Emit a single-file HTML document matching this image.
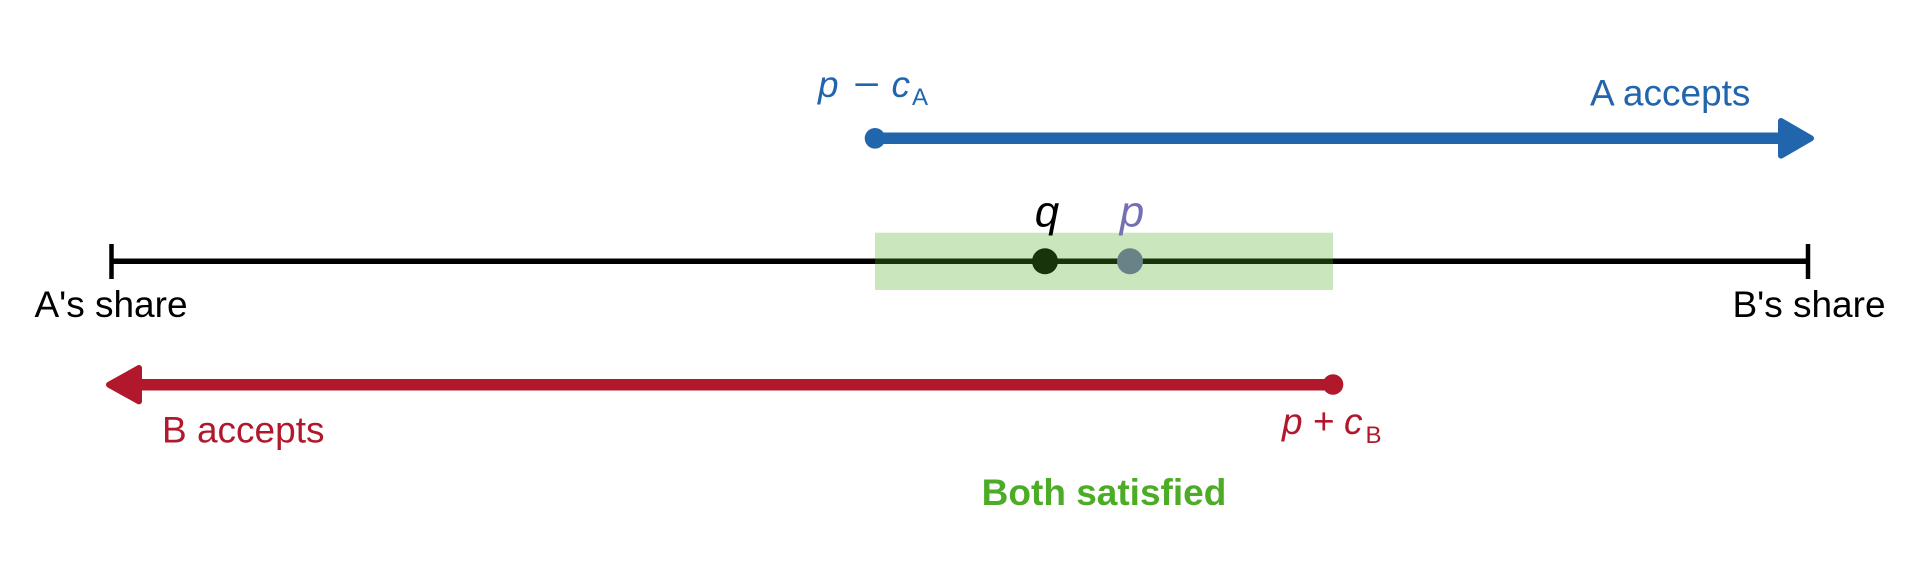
<!DOCTYPE html>
<html>
<head>
<meta charset="utf-8">
<style>
  html, body { margin: 0; padding: 0; background: #ffffff; }
  body { width: 1920px; height: 576px; overflow: hidden; }
  svg { display: block; }
  text { font-family: "Liberation Sans", Arial, sans-serif; }
</style>
</head>
<body>
<svg width="1920" height="576" viewBox="0 0 1920 576" xmlns="http://www.w3.org/2000/svg">
  <rect x="0" y="0" width="1920" height="576" fill="#ffffff"/>

  <!-- Blue arrow: A accepts -->
  <line x1="875" y1="138.3" x2="1782" y2="138.3" stroke="#2166ac" stroke-width="11.5"/>
  <circle cx="875" cy="138.3" r="10.3" fill="#2166ac"/>
  <polygon points="1781,121 1781,155.6 1811,138.3" fill="#2166ac" stroke="#2166ac" stroke-width="6" stroke-linejoin="round"/>
  <text x="1590" y="105.7" font-size="37" fill="#2166ac">A accepts</text>
  <text x="818" y="97" font-size="37" font-style="italic" fill="#2166ac">p</text>
  <text x="853" y="97" font-size="37" fill="#2166ac" textLength="27" lengthAdjust="spacingAndGlyphs">−</text>
  <text x="891.5" y="97" font-size="37" font-style="italic" fill="#2166ac">c</text>
  <text x="912" y="105" font-size="24" fill="#2166ac">A</text>

  <!-- Main axis -->
  <line x1="111" y1="261.3" x2="1808.5" y2="261.3" stroke="#000000" stroke-width="5.5"/>
  <line x1="111.5" y1="244" x2="111.5" y2="279" stroke="#000000" stroke-width="4.5"/>
  <line x1="1808" y1="244" x2="1808" y2="279" stroke="#000000" stroke-width="4.5"/>
  <circle cx="1045" cy="261.3" r="13" fill="#000000"/>
  <circle cx="1130" cy="261.3" r="13" fill="#7570b3"/>
  <!-- Green overlap region -->
  <rect x="875" y="232.7" width="458" height="57.3" fill="#4dac26" fill-opacity="0.3"/>

  <text x="1047" y="226.5" font-size="44" font-style="italic" fill="#000000" text-anchor="middle">q</text>
  <text x="1132" y="226.5" font-size="44" font-style="italic" fill="#7570b3" text-anchor="middle">p</text>

  <text x="111" y="317" font-size="37" fill="#000000" text-anchor="middle">A's share</text>
  <text x="1809" y="317" font-size="37" fill="#000000" text-anchor="middle">B's share</text>

  <!-- Red arrow: B accepts -->
  <line x1="136" y1="384.7" x2="1333" y2="384.7" stroke="#b2182b" stroke-width="11.5"/>
  <circle cx="1333" cy="384.5" r="10.3" fill="#b2182b"/>
  <polygon points="139,368 139,401.4 109,384.7" fill="#b2182b" stroke="#b2182b" stroke-width="6" stroke-linejoin="round"/>
  <text x="162" y="442.5" font-size="37" fill="#b2182b">B accepts</text>
  <text x="1282" y="434" font-size="37" font-style="italic" fill="#b2182b">p</text>
  <text x="1313" y="434" font-size="37" fill="#b2182b">+</text>
  <text x="1344" y="434" font-size="37" font-style="italic" fill="#b2182b">c</text>
  <text x="1365.5" y="443" font-size="24" fill="#b2182b">B</text>

  <!-- Both satisfied -->
  <text x="1104" y="505" font-size="37" font-weight="bold" fill="#4dac26" text-anchor="middle">Both satisfied</text>
</svg>
</body>
</html>
